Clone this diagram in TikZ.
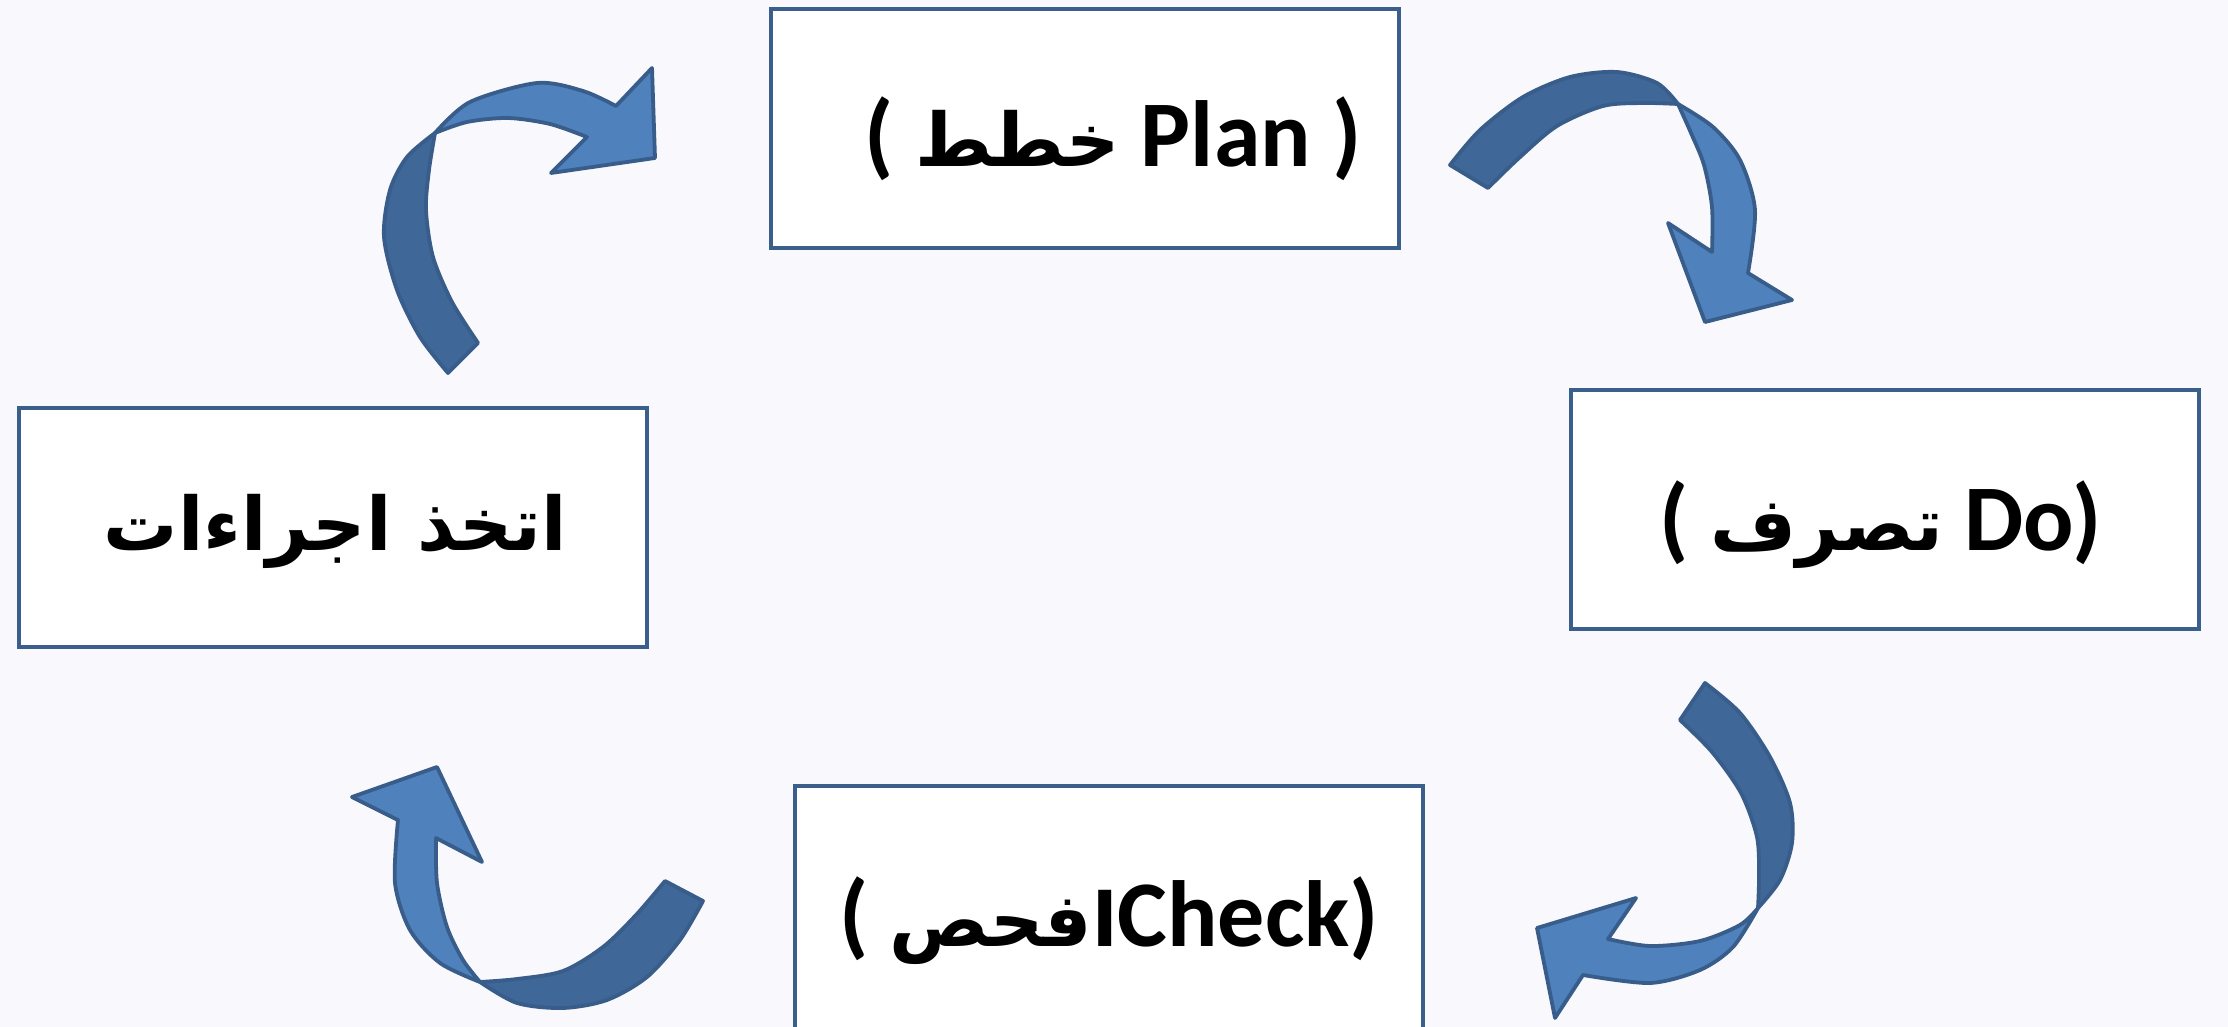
\documentclass[tikz,border=0pt]{standalone}
\usepackage{fontspec}
\setmainfont{Carlito}
\newfontfamily\arabicfont[Script=Arabic]{DejaVu Sans}
\TeXXeTstate=1
\definecolor{bg}{RGB}{249,248,252}
\definecolor{boxline}{RGB}{58,95,139}
\definecolor{arrowline}{RGB}{56,93,138}
\definecolor{darkpart}{RGB}{63,103,151}
\definecolor{lightpart}{RGB}{79,129,189}
\begin{document}
\begin{tikzpicture}[x=0.5pt,y=-0.5pt,
  stagebox/.style={draw=boxline,line width=2pt,fill=white,minimum width=314pt,minimum height=119.5pt,inner sep=0pt},
  stagetext/.style={inner sep=0pt,font=\fontsize{47}{56}\selectfont\bfseries},
  backband/.style={fill=darkpart,draw=arrowline,line width=1.9pt,line join=round},
  frontband/.style={fill=lightpart,draw=arrowline,line width=1.9pt,line join=round}]
\fill[bg] (0,0) rectangle (2228,1027);
\useasboundingbox (0,0) rectangle (2228,1027);
\newcommand\artxt[1]{{\arabicfont\fontsize{37}{45}\selectfont\beginR #1\endR}}

% boxes
\node[stagebox] (plan) at (1085,128.5) {};
\node[stagebox] (do) at (1885,509.5) {};
\node[stagebox] (act) at (333,527) {};
\node[stagebox,minimum height=125pt] (check) at (1109,911) {};

% texts
\node[stagetext] (plantext) at ([shift={(28,10)}]plan.center) {( \artxt{خطط} Plan )};
\node[stagetext] (dotext) at ([shift={(-4,15.5)}]do.center) {( \artxt{تصرف} Do)};
\node[stagetext] (acttext) at ([shift={(2,4.6)}]act.center) {\artxt{اتخذ اجراءات}};
\node[stagetext] (checktext) at ([shift={(0,10)}]check.center) {( \artxt{افحص}Check)};

% arrow 1: act -> plan
\filldraw[backband] plot[smooth] coordinates {(448,373) (420,337) (397,290) (384,237) (390,190) (407,157) (435,133)}
  -- plot[smooth] coordinates {(435,133) (429,170) (426,210) (433,257) (452,302) (478,343)} -- cycle;
\filldraw[frontband] plot[smooth] coordinates {(435,133) (470,102) (537,83) (583,91) (616,106)}
  -- (652,68) -- (655,158) -- (551,173)
  -- plot[smooth] coordinates {(587,137) (550,124) (508,118) (467,122) (435,133)} -- cycle;

% arrow 2: plan -> do
\filldraw[backband] plot[smooth] coordinates {(1450,165) (1480,130) (1523,97) (1570,77) (1617,72) (1657,83) (1678,104)}
  -- plot[smooth] coordinates {(1678,104) (1643,103) (1603,106) (1557,126) (1519,158) (1488,188)} -- cycle;
\filldraw[frontband] plot[smooth] coordinates {(1678,104) (1713,127) (1740,160) (1755,210) (1748,273)}
  -- (1792,300) -- (1705,322) -- (1668,223)
  -- plot[smooth] coordinates {(1712,252) (1712,207) (1704,165) (1691,133) (1678,104)} -- cycle;

% arrow 3: do -> check
\filldraw[backband] plot[smooth] coordinates {(1705,683) (1740,713) (1770,757) (1790,803) (1792,843) (1780,880) (1758,908)}
  -- plot[smooth] coordinates {(1758,908) (1759,877) (1757,837) (1741,793) (1712,752) (1680,720)} -- cycle;
\filldraw[frontband] plot[smooth] coordinates {(1758,908) (1733,947) (1700,970) (1650,983) (1583,975)}
  -- (1555,1018) -- (1537,928) -- (1636,898)
  -- plot[smooth] coordinates {(1608,939) (1650,946) (1700,941) (1740,925) (1758,908)} -- cycle;

% arrow 4: check -> act
\filldraw[backband] plot[smooth] coordinates {(703,901) (680,940) (647,977) (607,1000) (563,1008) (517,1003) (480,982)}
  -- plot[smooth] coordinates {(480,982) (517,979) (563,971) (603,947) (636,915) (665,881)} -- cycle;
\filldraw[frontband] plot[smooth] coordinates {(480,982) (440,963) (410,930) (395,883) (398,820)}
  -- (352,797) -- (437,767) -- (482,862)
  -- plot[smooth] coordinates {(436,838) (437,883) (447,927) (463,960) (480,982)} -- cycle;
\end{tikzpicture}
\end{document}
